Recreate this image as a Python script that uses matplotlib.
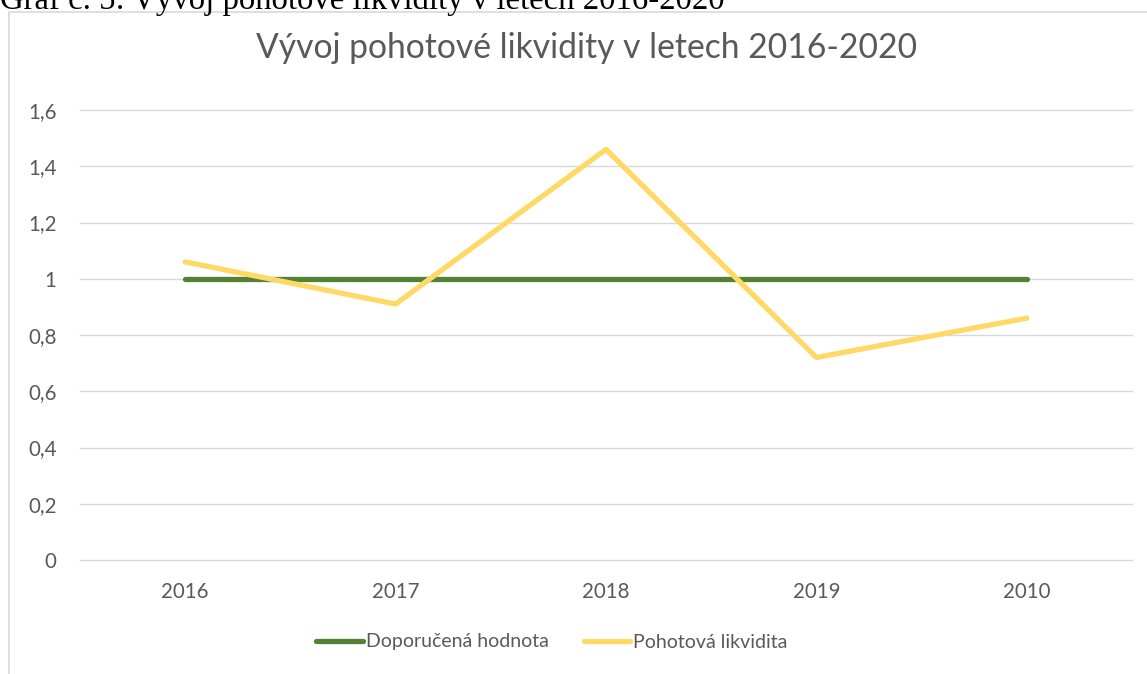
import matplotlib
matplotlib.use("Agg")
import matplotlib.pyplot as plt
from matplotlib.patches import Rectangle
from matplotlib.lines import Line2D

categories = ["2016", "2017", "2018", "2019", "2010"]
doporucena = [1, 1, 1, 1, 1]
pohotova = [1.06, 0.91, 1.46, 0.72, 0.86]
yticks = [0, 0.2, 0.4, 0.6, 0.8, 1.0, 1.2, 1.4, 1.6]
ytick_labels = ["0", "0,2", "0,4", "0,6", "0,8", "1", "1,2", "1,4", "1,6"]

W, H = 1147, 674
fig = plt.figure(figsize=(W/100, H/100), dpi=100)
FONT = ["Lato", "DejaVu Sans"]
GRAY = "#595959"

# outer chart border
fig.patches.append(Rectangle((9/W, -0.1), 1.2, 1 - 12/H + 0.1, transform=fig.transFigure,
                             fill=False, edgecolor="#D9D9D9", lw=1.2))

# caption (cut at top, as in the source)
fig.text(0/W, 1 - 9/H, "Graf č. 5: Vývoj pohotové likvidity v letech 2016-2020",
         fontfamily="Liberation Serif", fontsize=23.6, color="black",
         ha="left", va="baseline")

ax = fig.add_axes([80/W, (H-560)/H, (1132-80)/W, (560-110)/H])
x = list(range(len(categories)))
ax.plot(x, doporucena, color="#548235", lw=3.8, solid_capstyle="round", zorder=3)
ax.plot(x, pohotova, color="#FFD966", lw=3.8, solid_capstyle="round", zorder=4)
ax.set_xlim(-0.5, len(categories) - 0.5)
ax.set_ylim(0, 1.6)
ax.set_yticks(yticks)
ax.set_yticklabels(ytick_labels)
ax.set_xticks(x)
ax.set_xticklabels(categories)
for s in ax.spines.values():
    s.set_visible(False)
ax.grid(axis="y", color="#D9D9D9", lw=1.0)
for gl in ax.get_ygridlines():
    gl.set_clip_on(False)
ax.set_axisbelow(True)
ax.tick_params(axis="both", length=0, labelsize=14.8, labelcolor=GRAY)
ax.tick_params(axis="y", pad=17)
ax.tick_params(axis="x", pad=16)
for lab in ax.get_xticklabels() + ax.get_yticklabels():
    lab.set_fontfamily(FONT)

fig.text(587/W, 1 - 48/H, "Vývoj pohotové likvidity v letech 2016-2020",
         fontfamily=FONT, fontsize=24.2, color=GRAY, ha="center", va="center")

handles = [Line2D([], [], color="#548235", lw=3.8, solid_capstyle="round"),
           Line2D([], [], color="#FFD966", lw=3.8, solid_capstyle="round")]
leg = fig.legend(handles, ["Doporučená hodnota", "Pohotová likvidita"], ncol=2,
                 loc="center", bbox_to_anchor=(552/W, 1 - 642/H), frameon=False,
                 handlelength=2.4, handletextpad=0.15, columnspacing=1.8,
                 prop={"family": FONT, "size": 14})
for t in leg.get_texts():
    t.set_color(GRAY)

fig.savefig("out.png", dpi=100)
